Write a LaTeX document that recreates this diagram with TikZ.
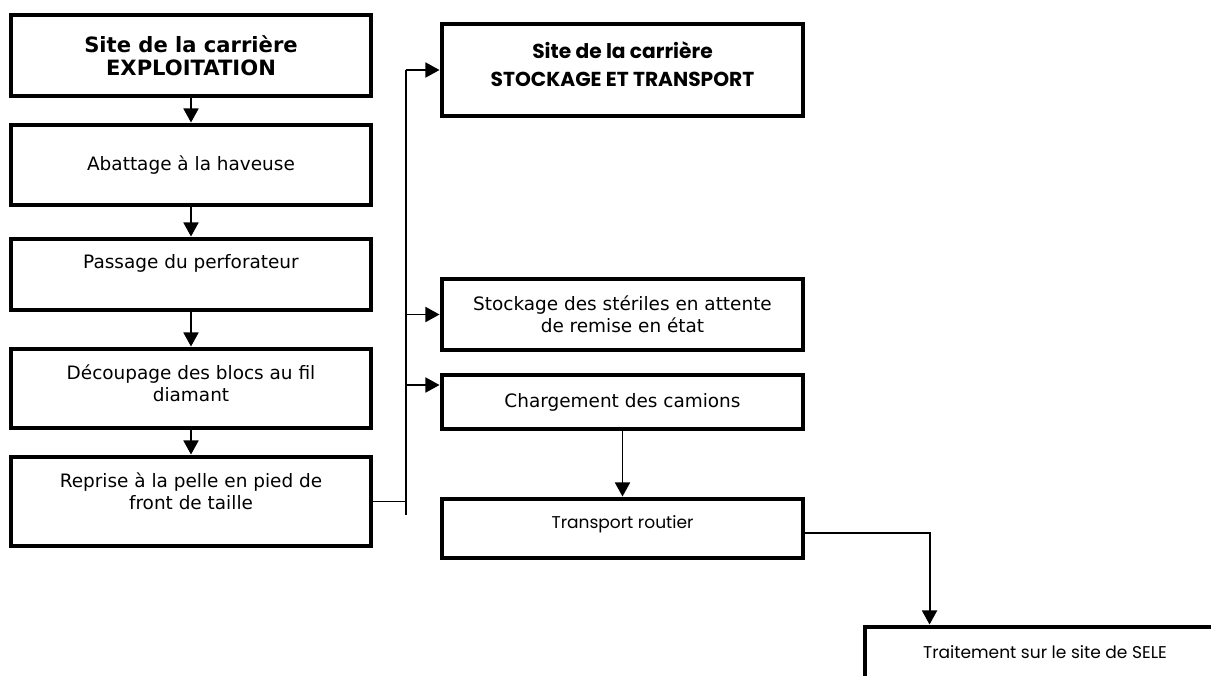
\documentclass[tikz,border=0pt]{standalone}
\usepackage{fontspec}
\newfontfamily\verd{DejaVu Sans}
\newfontfamily\goth{Poppins}
\usetikzlibrary{arrows.meta, positioning}

\begin{document}
\begin{tikzpicture}[
    ->,
    >={Triangle[length=8pt,width=8.5pt]},
    line width=1.1pt,
    on grid,
    box/.style={rectangle, draw, line width=2.8pt, minimum width=7.2cm, align=center,
        font=\verd\fontsize{10.5}{12.5}\selectfont},
    head/.style={box, font=\verd\bfseries\fontsize{12}{13}\selectfont},
    gbox/.style={box, font=\goth\fontsize{9.7}{12}\selectfont},
    ghead/.style={box, font=\goth\bfseries\fontsize{11.5}{16}\selectfont},
]

    \useasboundingbox (0,0) rectangle (24.22,-13.5);
    \clip (0,0) rectangle (24.22,-13.5);

    % exploitation
    \node[head, minimum height=1.62cm]                  (A0) at (3.82,-1.11) {Site de la carrière\\EXPLOITATION};
    \node[box, minimum height=1.6cm, below=2.19cm of A0]  (A1) {Abattage à la haveuse};
    \node[box, minimum height=1.42cm, text depth=14.5pt, below=2.19cm of A1] (A2) {Passage du perforateur};
    \node[box, minimum height=1.58cm, text depth=6.2pt, below=2.28cm of A2]  (A3) {Découpage des blocs au fil\\diamant};
    \node[box, minimum height=1.78cm, text depth=12pt, below=2.26cm of A3]   (A4) {Reprise à la pelle en pied de\\front de taille};

    % stockage et transport
    \node[ghead, minimum width=7.22cm, minimum height=1.84cm, text depth=6.8pt] (B0) at (12.45,-1.4) {Site de la carrière\\STOCKAGE ET TRANSPORT};
    \node[box, minimum width=7.22cm, minimum height=1.42cm, below=4.89cm of B0] (B1) {Stockage des stériles en attente\\de remise en état};
    \node[box, minimum width=7.22cm, minimum height=1.08cm, below=1.75cm of B1] (B2) {Chargement des camions};
    \node[gbox, minimum width=7.22cm, minimum height=1.18cm, text depth=7pt, below=2.53cm of B2] (B3) {Transport routier};
    \node[gbox, minimum height=1.6cm, text depth=17pt, below right=2.77cm and 8.45cm of B3] (B4) {Traitement sur le site de SELE};

    \coordinate[left=0.68cm of B0.west] (bustop);
    \coordinate (busbot) at (bustop |- 0,-10.3);
    \coordinate (B2in) at ([yshift=0.34cm]B2.west);
    \coordinate (B3out) at ([yshift=-0.09cm]B3.east);
    \coordinate (B4in) at ([xshift=1.34cm]B4.north west);

    \path
        (A0) edge (A1)
        (A1) edge (A2)
        (A2) edge (A3)
        (A3) edge (A4)
        (B2) edge (B3)
    ;

    \draw[-] (A4.east) -- (A4.east -| bustop);
    \draw[-] (bustop) -- (busbot);
    \path
        (bustop) edge (B0.west)
        (B1.west -| bustop) edge (B1.west)
        (B2in -| bustop) edge (B2in)
    ;
    \draw (B3out) -| (B4in);
\end{tikzpicture}
\end{document}
